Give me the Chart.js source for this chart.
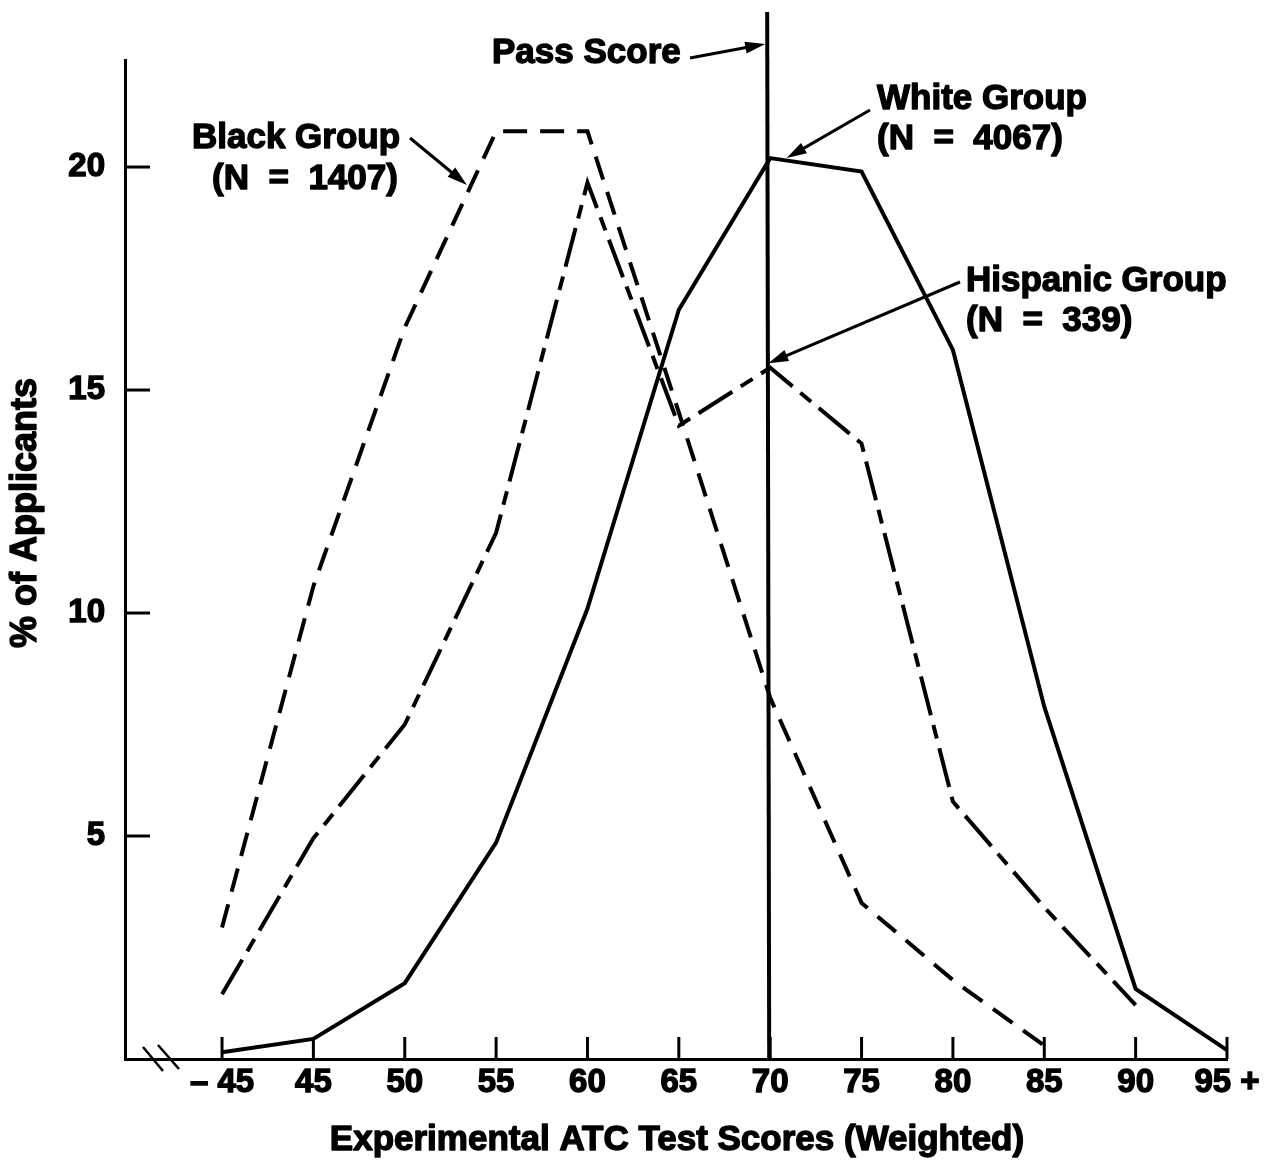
<!DOCTYPE html>
<html>
<head>
<meta charset="utf-8">
<title>Experimental ATC Test Scores</title>
<script src="https://cdn.jsdelivr.net/npm/chart.js@4.4.1/dist/chart.umd.min.js"></script>
<style>
  html, body { margin: 0; padding: 0; background: #fff; }
  canvas { display: block; }
</style>
</head>
<body>
<canvas id="atcChart" width="1276" height="1165"></canvas>
<script>
// Score bands along the x axis
const scoreLabels = ['\u2013 45', '45', '50', '55', '60', '65', '70', '75', '80', '85', '90', '95 +'];
// % of applicants in each band
const whiteGroup = [0.15, 0.45, 1.7, 4.85, 10.1, 16.8, 20.2, 19.9, 15.9, 7.9, 1.57, 0.2];
const blackGroup = [2.95, 10.6, 16.4, 20.8, 20.8, 14.5, 8.1, 3.5, 1.77, 0.3, null, null];
const hispanicGroup = [1.45, 4.95, 7.5, 11.8, 19.65, 14.2, 15.5, 13.8, 5.77, 3.4, 1.21, null];
const yTickValues = [5, 10, 15, 20];
const passScoreIndex = 6; // the 70 band

const FONT = "'Liberation Sans', Arial, Helvetica, sans-serif";

const toPoints = (arr) => arr.map((v, i) => ({ x: i, y: v }));

// heavy text: fill plus a thin stroke, the print face is very bold
function boldText(ctx, text, x, y) {
    ctx.fillText(text, x, y);
    ctx.strokeText(text, x, y);
}

// draws a line with a filled arrow head at (x2, y2)
function arrow(ctx, x1, y1, x2, y2) {
    const a = Math.atan2(y2 - y1, x2 - x1);
    const c = Math.cos(a), s = Math.sin(a);
    ctx.beginPath();
    ctx.moveTo(x1, y1);
    ctx.lineTo(x2 - 14 * c, y2 - 14 * s);
    ctx.stroke();
    ctx.beginPath();
    ctx.moveTo(x2, y2);
    ctx.lineTo(x2 - 20 * c + 6 * s, y2 - 20 * s - 6 * c);
    ctx.lineTo(x2 - 20 * c - 6 * s, y2 - 20 * s + 6 * c);
    ctx.closePath();
    ctx.fill();
}

const figureDecor = {
    id: 'figureDecor',
    beforeDatasetsDraw(chart) {
        const { ctx, chartArea, scales } = chart;
        ctx.save();
        ctx.strokeStyle = '#000';
        ctx.lineWidth = 3;
        // inward tick marks
        scales.x.ticks.forEach(t => {
            const px = scales.x.getPixelForValue(t.value);
            ctx.beginPath();
            ctx.moveTo(px, chartArea.bottom);
            ctx.lineTo(px, chartArea.bottom - 22);
            ctx.stroke();
        });
        scales.y.ticks.forEach(t => {
            const py = scales.y.getPixelForValue(t.value);
            ctx.beginPath();
            ctx.moveTo(chartArea.left, py);
            ctx.lineTo(chartArea.left + 25, py);
            ctx.stroke();
        });
        // axis break marks
        ctx.lineWidth = 2.5;
        ctx.beginPath();
        ctx.moveTo(143, 1047); ctx.lineTo(163, 1071);
        ctx.moveTo(158, 1045); ctx.lineTo(179, 1069);
        ctx.stroke();
        ctx.restore();
    },
    afterDatasetsDraw(chart) {
        const { ctx, chartArea, scales } = chart;
        const x = scales.x, y = scales.y;
        ctx.save();
        ctx.strokeStyle = '#000';
        ctx.fillStyle = '#000';

        // pass score line
        const passX = x.getPixelForValue(passScoreIndex) - 3;
        ctx.lineWidth = 4;
        ctx.beginPath();
        ctx.moveTo(passX, 12);
        ctx.lineTo(passX + 2, chartArea.bottom);
        ctx.stroke();

        // arrows
        ctx.lineWidth = 3;
        arrow(ctx, 690, 58, passX - 2, 44);
        arrow(ctx, 410, 138, x.getPixelForValue(2.68), y.getPixelForValue(19.6));
        arrow(ctx, 870, 110, x.getPixelForValue(6.18), y.getPixelForValue(20.2));
        arrow(ctx, 960, 282, x.getPixelForValue(5.98), y.getPixelForValue(15.6));

        // labels
        ctx.lineWidth = 1.4;
        ctx.lineJoin = 'round';
        ctx.font = 'bold 35px ' + FONT;
        ctx.textBaseline = 'middle';
        ctx.textAlign = 'left';
        boldText(ctx, 'Pass Score', 492, 53);
        boldText(ctx, 'White Group', 877, 99);
        boldText(ctx, '(N  =  4067)', 877, 139);
        boldText(ctx, 'Hispanic Group', 966, 281);
        boldText(ctx, '(N  =  339)', 966, 321);
        ctx.textAlign = 'center';
        boldText(ctx, 'Black Group', 296, 138);
        boldText(ctx, '(N  =  1407)', 305, 179);

        // x axis title
        boldText(ctx, 'Experimental ATC Test Scores (Weighted)', (chartArea.left + chartArea.right) / 2 + 1, 1140);

        // y axis title
        ctx.translate(26, 513);
        ctx.rotate(-Math.PI / 2);
        ctx.font = 'bold 36px ' + FONT;
        boldText(ctx, '% of Applicants', 0, 0);
        ctx.restore();
    }
};

const lineStyle = {
    borderColor: '#000',
    borderWidth: 4,
    pointRadius: 0,
    tension: 0,
    fill: false,
    spanGaps: false,
    borderCapStyle: 'butt'
};

const tickFont = { family: FONT, size: 33, weight: 'bold' };

const ctx = document.getElementById('atcChart').getContext('2d');
const atcChart = new Chart(ctx, {
    type: 'line',
    data: {
        datasets: [
            { ...lineStyle, label: 'White Group (N = 4067)', data: toPoints(whiteGroup) },
            { ...lineStyle, label: 'Black Group (N = 1407)', data: toPoints(blackGroup), borderDash: [24, 13] },
            { ...lineStyle, label: 'Hispanic Group (N = 339)', data: toPoints(hispanicGroup), borderDash: [40, 10, 14, 10] }
        ]
    },
    options: {
        responsive: false,
        animation: false,
        devicePixelRatio: 1,
        layout: { padding: { top: 60, right: 49, left: 0, bottom: 0 } },
        plugins: {
            legend: { display: false },
            tooltip: { enabled: false }
        },
        scales: {
            x: {
                type: 'linear',
                min: -1.062,
                max: scoreLabels.length - 1,
                afterFit: (scale) => { scale.height = 106; },
                afterBuildTicks: (scale) => {
                    scale.ticks = scoreLabels.map((_, i) => ({ value: i }));
                },
                grid: { display: true, drawOnChartArea: false, drawTicks: false },
                border: { display: true, color: '#000', width: 3 },
                ticks: {
                    autoSkip: false,
                    maxRotation: 0,
                    padding: 4,
                    color: '#000',
                    textStrokeColor: '#000',
                    textStrokeWidth: 1.4,
                    font: tickFont,
                    callback: (v) => scoreLabels[v]
                }
            },
            y: {
                min: 0,
                max: 22.4,
                afterFit: (scale) => { scale.width = 125; },
                afterBuildTicks: (scale) => {
                    scale.ticks = yTickValues.map(v => ({ value: v }));
                },
                grid: { display: true, drawOnChartArea: false, drawTicks: false },
                border: { display: true, color: '#000', width: 3 },
                ticks: {
                    padding: 20,
                    color: '#000',
                    textStrokeColor: '#000',
                    textStrokeWidth: 1.4,
                    font: tickFont
                }
            }
        }
    },
    plugins: [figureDecor]
});
</script>
</body>
</html>
